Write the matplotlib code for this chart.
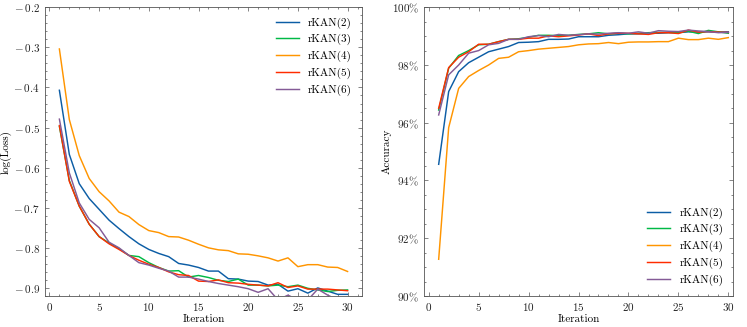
import numpy as np
import matplotlib
matplotlib.use("Agg")
import matplotlib.pyplot as plt
from matplotlib.ticker import AutoMinorLocator, FuncFormatter, MultipleLocator

iterations = list(range(1, 31))
labels = ["rKAN(2)", "rKAN(3)", "rKAN(4)", "rKAN(5)", "rKAN(6)"]
colors = ["#0C5DA5", "#00B945", "#FF9500", "#FF2C00", "#845B97"]

loss_k2 = [-0.407, -0.567, -0.640, -0.677, -0.704, -0.731, -0.752, -0.772, -0.790, -0.804,
           -0.814, -0.822, -0.839, -0.843, -0.849, -0.858, -0.858, -0.877, -0.878, -0.883,
           -0.884, -0.893, -0.891, -0.908, -0.902, -0.913, -0.900, -0.908, -0.916, -0.916]
loss_k3 = [-0.497, -0.632, -0.696, -0.741, -0.772, -0.788, -0.802, -0.819, -0.822, -0.837,
           -0.849, -0.858, -0.857, -0.873, -0.869, -0.874, -0.881, -0.884, -0.878, -0.893,
           -0.893, -0.895, -0.893, -0.897, -0.893, -0.901, -0.905, -0.909, -0.906, -0.905]
loss_k4 = [-0.304, -0.480, -0.570, -0.627, -0.660, -0.683, -0.711, -0.722, -0.742, -0.757,
           -0.762, -0.772, -0.773, -0.781, -0.791, -0.800, -0.805, -0.807, -0.815, -0.816,
           -0.820, -0.825, -0.833, -0.825, -0.847, -0.842, -0.842, -0.848, -0.849, -0.859]
loss_k5 = [-0.495, -0.634, -0.696, -0.741, -0.772, -0.790, -0.804, -0.819, -0.831, -0.841,
           -0.849, -0.860, -0.867, -0.869, -0.883, -0.884, -0.880, -0.887, -0.888, -0.891,
           -0.893, -0.895, -0.887, -0.899, -0.895, -0.903, -0.903, -0.903, -0.905, -0.907]
loss_k6 = [-0.479, -0.613, -0.688, -0.729, -0.750, -0.786, -0.800, -0.819, -0.837, -0.843,
           -0.851, -0.858, -0.873, -0.873, -0.878, -0.884, -0.889, -0.893, -0.897, -0.902,
           -0.911, -0.902, -0.930, -0.918, -0.930, -0.930, -0.903, -0.918, -0.930, -0.930]

acc_k2 = [94.56, 97.08, 97.77, 98.08, 98.27, 98.46, 98.55, 98.64, 98.78, 98.79,
          98.81, 98.89, 98.89, 98.90, 98.98, 98.98, 98.98, 99.03, 99.05, 99.08,
          99.08, 99.10, 99.10, 99.12, 99.12, 99.15, 99.14, 99.15, 99.14, 99.15]
acc_k3 = [96.44, 97.89, 98.33, 98.50, 98.70, 98.72, 98.81, 98.89, 98.91, 98.96,
          99.03, 99.03, 99.02, 99.03, 99.06, 99.08, 99.12, 99.08, 99.10, 99.08,
          99.10, 99.12, 99.13, 99.13, 99.13, 99.17, 99.09, 99.20, 99.15, 99.10]
acc_k4 = [91.27, 95.83, 97.19, 97.60, 97.81, 98.00, 98.23, 98.27, 98.46, 98.50,
          98.55, 98.58, 98.61, 98.64, 98.70, 98.73, 98.74, 98.78, 98.74, 98.79,
          98.80, 98.80, 98.81, 98.81, 98.93, 98.88, 98.88, 98.93, 98.89, 98.95]
acc_k5 = [96.50, 97.91, 98.27, 98.46, 98.72, 98.72, 98.81, 98.89, 98.89, 98.93,
          98.93, 99.01, 98.98, 99.01, 99.04, 99.08, 99.02, 99.08, 99.10, 99.10,
          99.08, 99.06, 99.12, 99.12, 99.09, 99.21, 99.14, 99.16, 99.14, 99.13]
acc_k6 = [96.27, 97.66, 98.00, 98.41, 98.50, 98.70, 98.75, 98.89, 98.89, 98.98,
          99.02, 98.98, 99.06, 99.03, 99.05, 99.08, 99.07, 99.10, 99.12, 99.10,
          99.15, 99.10, 99.19, 99.17, 99.16, 99.21, 99.18, 99.16, 99.12, 99.13]

loss_series = [loss_k2, loss_k3, loss_k4, loss_k5, loss_k6]
acc_series = [acc_k2, acc_k3, acc_k4, acc_k5, acc_k6]

plt.rcParams.update({
    "font.family": "serif",
    "font.serif": ["cmr10"],
    "mathtext.fontset": "cm",
    "axes.formatter.use_mathtext": True,
    "axes.unicode_minus": True,
    "font.size": 8,
    "axes.linewidth": 0.6,
    "axes.edgecolor": "#555555",
    "xtick.direction": "in",
    "ytick.direction": "in",
    "xtick.top": True,
    "ytick.right": True,
    "xtick.major.size": 3,
    "ytick.major.size": 3,
    "xtick.minor.size": 1.5,
    "ytick.minor.size": 1.5,
    "xtick.major.width": 0.5,
    "ytick.major.width": 0.5,
    "xtick.minor.width": 0.5,
    "ytick.minor.width": 0.5,
    "xtick.minor.visible": True,
    "ytick.minor.visible": True,
})

fig = plt.figure(figsize=(7.47, 3.27), dpi=100)
ax1 = fig.add_axes([0.0602, 0.095, 0.4244, 0.8827])
ax2 = fig.add_axes([0.5676, 0.095, 0.4141, 0.8827])

for vals, lab, c in zip(loss_series, labels, colors):
    ax1.plot(iterations, vals, color=c, lw=1.05, label=lab)
ax1.set_xlim(-0.45, 31.45)
ax1.set_ylim(-0.92, -0.2)
ax1.xaxis.set_major_locator(MultipleLocator(5))
ax1.yaxis.set_major_locator(MultipleLocator(0.1))
ax1.xaxis.set_minor_locator(AutoMinorLocator(5))
ax1.yaxis.set_minor_locator(AutoMinorLocator(5))
ax1.yaxis.set_major_formatter(FuncFormatter(lambda v, p: r"$-\:%.1f$" % abs(v)))
ax1.set_xlabel("Iteration", labelpad=1)
ax1.set_ylabel("log(Loss)", labelpad=1)
ax1.legend(loc="upper right", frameon=False, handlelength=2.1, fontsize=8)

for vals, lab, c in zip(acc_series, labels, colors):
    ax2.plot(iterations, vals, color=c, lw=1.05, label=lab)
ax2.set_xlim(-0.47, 30.5)
ax2.set_ylim(90, 100)
ax2.xaxis.set_major_locator(MultipleLocator(5))
ax2.yaxis.set_major_locator(MultipleLocator(2))
ax2.xaxis.set_minor_locator(AutoMinorLocator(5))
ax2.yaxis.set_minor_locator(AutoMinorLocator(4))
ax2.yaxis.set_major_formatter(FuncFormatter(lambda v, p: r"$%d\%%$" % round(v)))
ax2.set_xlabel("Iteration", labelpad=1)
ax2.set_ylabel("Accuracy", labelpad=0.5)
ax2.legend(loc="lower right", frameon=False, handlelength=2.1, fontsize=8)

for ax in (ax1, ax2):
    ax.tick_params(which="both", colors="#555555", labelcolor="#222222")

fig.savefig("out.png", dpi=100)
